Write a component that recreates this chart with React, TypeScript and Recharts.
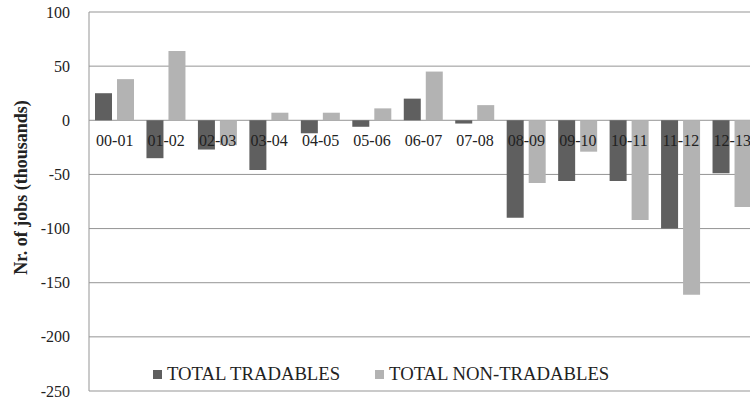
import { ComposedChart, Bar, Line, XAxis, YAxis, CartesianGrid, Legend, LabelList } from 'recharts';

const periods = ['00-01', '01-02', '02-03', '03-04', '04-05', '05-06', '06-07', '07-08', '08-09', '09-10', '10-11', '11-12', '12-13'];
const tradables = [25, -35, -27, -46, -12, -6, 20, -3, -90, -56, -56, -100, -49];
const nonTradables = [38, 64, -23, 7, 7, 11, 45, 14, -58, -29, -92, -161, -80];
const yTicks = [-250, -200, -150, -100, -50, 0, 50, 100];
const seriesNames = ['TOTAL TRADABLES', 'TOTAL NON-TRADABLES'];

const data = periods.map((period, i) => ({
    period,
    tradables: tradables[i],
    nonTradables: nonTradables[i],
}));

const FONT = 'Liberation Serif, Times New Roman, serif';
const DARK = '#5f5f5f';
const LIGHT = '#b3b3b3';
const GRID = '#959595';
const TEXT = '#222';

const serif = { fontFamily: FONT, fontSize: 16, fill: TEXT };

const renderLegend = (props: any) => {
    // only the two bar series, in series order (the helper line is left out)
    const items = (props.payload || [])
        .filter((p: any) => seriesNames.includes(p.value))
        .sort((a: any, b: any) => seriesNames.indexOf(a.value) - seriesNames.indexOf(b.value));
    return (
        <div style={{ display: 'flex', fontFamily: FONT, fontSize: 18.7, color: TEXT, whiteSpace: 'nowrap' }}>
            {items.map((item: any, i: number) => (
                <div key={i} style={{ display: 'flex', alignItems: 'center', marginRight: 35 }}>
                    <span style={{ display: 'inline-block', width: 9, height: 9, background: item.color, marginRight: 5 }} />
                    <span>{item.value}</span>
                </div>
            ))}
        </div>
    );
};

const renderYTitle = (props: any) => {
    const vb = props.viewBox || { x: 0, y: 0, height: 0 };
    const x = vb.x + 21;
    const y = vb.y + vb.height / 2 - 14;
    return (
        <text
            x={x}
            y={y}
            transform={`rotate(-90, ${x}, ${y})`}
            textAnchor="middle"
            dominantBaseline="central"
            style={{ fontFamily: FONT, fontSize: 18, fontWeight: 700, fill: TEXT }}
        >
            Nr. of jobs (thousands)
        </text>
    );
};

const renderYTick = (props: any) => {
    const { x, y, payload } = props;
    return (
        <text x={x} y={y} dy="0.35em" textAnchor="end" style={serif}>
            {payload.value}
        </text>
    );
};

const renderPeriod = (props: any) => {
    const { x, y, value } = props;
    return (
        <text x={x} y={y + 20} dy="0.35em" textAnchor="middle" style={serif}>
            {value}
        </text>
    );
};

export default function App() {
    return (
        <div style={{ position: 'absolute', left: 0, top: 0, width: 750, height: 405, overflow: 'hidden', background: '#fff', fontFamily: FONT }}>
            <ComposedChart
                width={762}
                height={405}
                data={data}
                margin={{ top: 12, right: 4, left: 0, bottom: 14 }}
                barGap={5}
                barSize={17}
                style={{ fontFamily: FONT }}
            >
                <CartesianGrid vertical={false} stroke={GRID} strokeWidth={1} />
                <XAxis dataKey="period" hide />
                <YAxis
                    width={89}
                    domain={[-250, 100]}
                    ticks={yTicks}
                    interval={0}
                    axisLine={{ stroke: GRID }}
                    tickLine={false}
                    tickSize={0}
                    tickMargin={19}
                    tick={renderYTick}
                    label={{ content: renderYTitle }}
                />
                <Legend
                    layout="horizontal"
                    verticalAlign="middle"
                    align="center"
                    content={renderLegend}
                    wrapperStyle={{ top: 363, left: 153, width: 'auto' }}
                />
                <Bar dataKey="tradables" name="TOTAL TRADABLES" fill={DARK} isAnimationActive={false} />
                <Bar dataKey="nonTradables" name="TOTAL NON-TRADABLES" fill={LIGHT} isAnimationActive={false} />
                {/* invisible zero line that carries the period labels along the 0 axis */}
                <Line
                    dataKey={() => 0}
                    stroke="none"
                    dot={false}
                    activeDot={false}
                    legendType="none"
                    isAnimationActive={false}
                >
                    <LabelList dataKey="period" content={renderPeriod} />
                </Line>
            </ComposedChart>
        </div>
    );
}
